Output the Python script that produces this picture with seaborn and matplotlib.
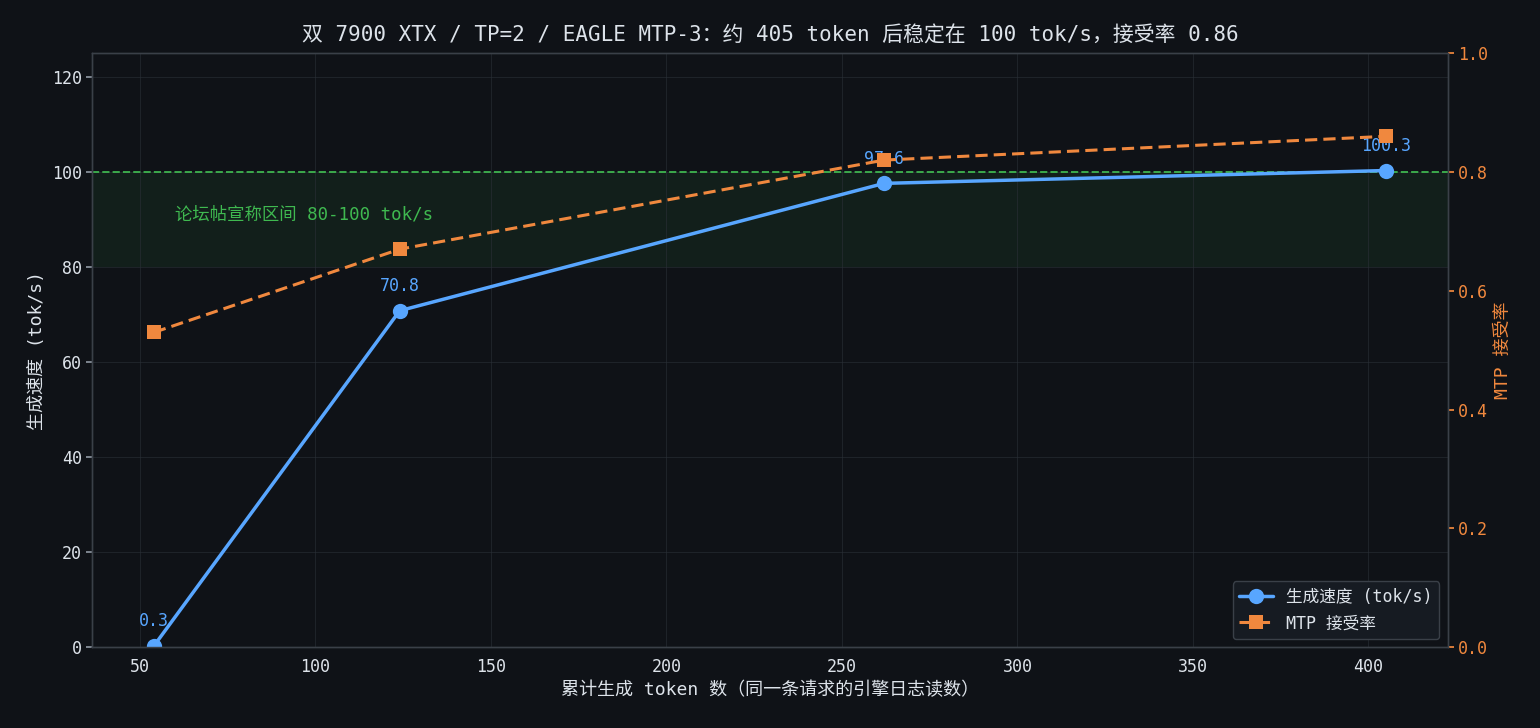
import numpy as np
import pandas as pd
import matplotlib
matplotlib.use("Agg")
import matplotlib.pyplot as plt
import seaborn as sns

tokens = [54, 124, 262, 405]
speed = [0.3, 70.8, 97.6, 100.3]
accept = [0.53, 0.67, 0.82, 0.86]
speed_labels = ["0.3", "70.8", "97.6", "100.3"]

BG = "#0f1217"
FG = "#dde3ea"
GRID = "#2a2f37"
BLUE = "#58a6ff"
ORANGE = "#f0883e"
GREEN = "#3fb950"

sns.set_theme(style="darkgrid")
plt.rcParams['font.family'] = ['DejaVu Sans Mono', 'Noto Sans CJK SC']
plt.rcParams.update({
    "figure.facecolor": BG, "axes.facecolor": BG, "savefig.facecolor": BG,
    "text.color": FG, "axes.labelcolor": FG, "xtick.color": FG, "ytick.color": FG,
    "axes.edgecolor": "#3a4048", "grid.color": GRID,
})

df = pd.DataFrame({"tokens": tokens, "speed": speed, "accept": accept})

fig, ax = plt.subplots(figsize=(15.4, 7.28), dpi=100)
fig.subplots_adjust(left=0.06, right=0.940, top=0.927, bottom=0.111)
ax.grid(True, color=GRID, linewidth=0.6, alpha=0.7)

ax.axhspan(80, 100, color=GREEN, alpha=0.08, zorder=0, linewidth=0)
ax.axhline(100, color=GREEN, linestyle="--", linewidth=1.4, alpha=0.9, zorder=1)
ax.text(60, 91, "论坛帖宣称区间 80-100 tok/s", color=GREEN, fontsize=12.5, va="center")

sns.lineplot(data=df, x="tokens", y="speed", ax=ax, color=BLUE, linewidth=2.5,
             marker="o", markersize=11, markeredgewidth=0, label="生成速度 (tok/s)", legend=False, zorder=3)
for xv, yv, lab in zip(tokens, speed, speed_labels):
    ax.annotate(lab, (xv, yv), xytext=(0, 11), textcoords="offset points",
                ha="center", va="bottom", color=BLUE, fontsize=12, zorder=5)

ax.set_ylim(0, 125)
ax.set_yticks([0, 20, 40, 60, 80, 100, 120])
ax.set_xticks([50, 100, 150, 200, 250, 300, 350, 400])
ax.set_xlabel("累计生成 token 数（同一条请求的引擎日志读数）", fontsize=13)
ax.set_ylabel("生成速度 (tok/s)", fontsize=13)
ax.tick_params(axis="both", labelsize=12, length=4, color="#8b949e")
ax.set_title("双 7900 XTX / TP=2 / EAGLE MTP-3：约 405 token 后稳定在 100 tok/s，接受率 0.86",
             fontsize=15, color=FG, pad=8)

ax2 = ax.twinx()
ax2.grid(False)
sns.lineplot(data=df, x="tokens", y="accept", ax=ax2, color=ORANGE, linewidth=2.2,
             linestyle="--", marker="s", markersize=10, markeredgewidth=0,
             label="MTP 接受率", legend=False, zorder=4)
ax2.lines[0].set_dashes((4, 2))
ax2.set_ylim(0, 1.0)
ax2.set_yticks([0, 0.2, 0.4, 0.6, 0.8, 1.0])
ax2.set_ylabel("MTP 接受率", color=ORANGE, fontsize=13)
ax2.tick_params(axis="y", colors=ORANGE, labelsize=12, length=4)
ax2.set_xlabel("")

for a in (ax, ax2):
    for s in a.spines.values():
        s.set_color("#3a4048")
        s.set_linewidth(1.0)

h1, l1 = ax.get_legend_handles_labels()
h2, l2 = ax2.get_legend_handles_labels()
leg = ax2.legend(h1 + h2, l1 + l2, loc="lower right", fontsize=12,
                 facecolor="#161b22", edgecolor="#3a4048", framealpha=1.0, labelcolor=FG)

fig.savefig("out.png", dpi=100)
